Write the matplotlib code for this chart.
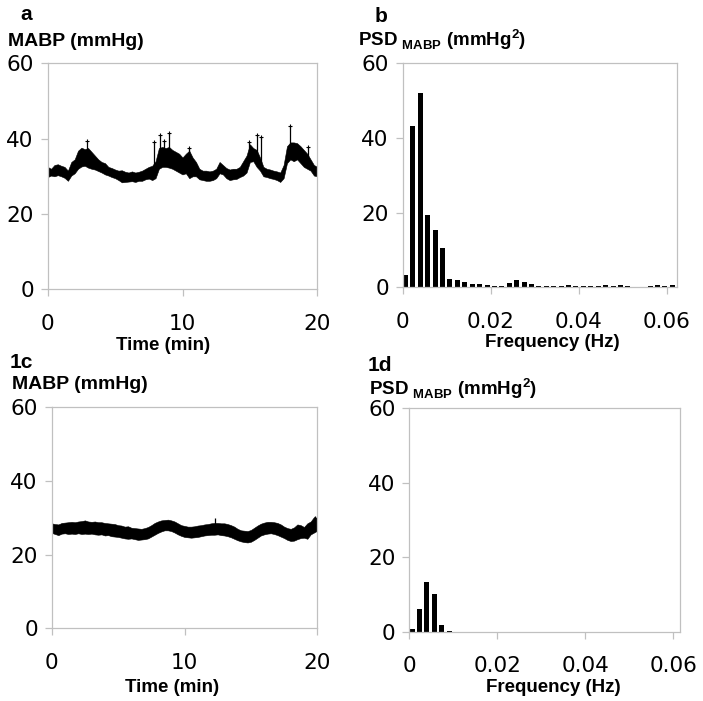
import numpy as np
import matplotlib
matplotlib.use("Agg")
import matplotlib.pyplot as plt

plt.rcParams['font.family'] = 'Liberation Sans'
plt.rcParams['mathtext.fontset'] = 'custom'
plt.rcParams['mathtext.rm'] = 'Liberation Sans:bold'
plt.rcParams['mathtext.bf'] = 'Liberation Sans:bold'

# time grid (min) for the MABP traces
minutes = np.linspace(0, 20, 81)

# panel a: MABP band (upper / lower envelope, mmHg)
mabp_a_hi = [32.5, 32.0, 33.0, 33.2, 32.8, 32.5, 31.5, 33.8, 34.5, 36.8,
             37.6, 37.2, 37.5, 36.5, 35.5, 34.5, 33.8, 33.5, 32.5, 32.2,
             31.8, 31.5, 31.6, 31.2, 31.0, 31.3, 31.0, 31.2, 31.5, 32.0,
             32.5, 32.8, 34.0, 37.5, 37.8, 37.5, 37.8, 37.0, 36.5, 36.0,
             35.0, 36.0, 36.8, 35.0, 33.8, 32.0, 31.5, 31.5, 31.3, 31.5,
             32.0, 33.8, 33.0, 32.2, 31.8, 32.0, 32.0, 32.5, 34.0, 35.5,
             38.5, 37.5, 37.0, 35.0, 32.5, 32.0, 31.8, 31.5, 31.3, 31.0,
             33.0, 38.0, 39.0, 39.0, 38.8, 38.0, 37.0, 36.0, 34.5, 33.0,
             32.5]
mabp_a_lo = [29.8, 30.2, 30.0, 30.3, 30.0, 29.6, 28.8, 30.2, 30.8, 32.0,
             32.6, 32.8, 32.3, 32.0, 31.8, 31.4, 31.0, 30.5, 30.2, 29.8,
             29.5, 29.0, 28.4, 28.5, 28.6, 28.7, 28.5, 28.8, 28.8, 29.2,
             29.4, 29.0, 29.5, 32.0, 32.5, 32.5, 32.3, 32.0, 31.5, 31.0,
             30.5, 30.8, 29.5, 30.0, 30.0, 29.2, 29.0, 28.8, 28.8, 29.0,
             29.5, 30.8, 30.5, 29.5, 29.0, 29.2, 29.3, 29.8, 30.2, 31.0,
             33.8, 34.0, 32.5, 31.5, 30.0, 29.8, 29.5, 29.3, 29.0, 28.5,
             29.5, 33.5, 34.5, 34.0, 34.5, 33.5, 32.5, 32.0, 31.5, 30.2,
             30.0]
spike_a_t = [2.95, 7.9, 8.33, 8.6, 9.0, 10.45, 14.95, 15.5, 15.8, 18.0, 19.3]
spike_a_lo = [35.0, 31.0, 34.0, 35.0, 35.0, 33.0, 34.0, 34.0, 32.5, 37.0, 33.0]
spike_a_hi = [39.3, 39.0, 41.0, 39.5, 41.6, 37.5, 39.0, 41.0, 40.5, 43.4, 37.8]

# panel c: MABP band
mabp_c_hi = [28.5, 28.3, 28.2, 28.6, 28.7, 28.8, 28.9, 28.8, 29.0, 29.1,
             29.3, 29.0, 28.9, 29.0, 28.8, 28.8, 28.6, 28.5, 28.4, 28.3,
             28.0, 27.9, 27.6, 27.7, 27.3, 27.2, 27.1, 27.0, 27.2, 27.5,
             28.0, 28.6, 29.0, 29.3, 29.4, 29.5, 29.3, 29.0, 28.5, 28.0,
             27.8, 27.6, 27.6, 27.7, 27.9, 28.0, 28.2, 28.3, 28.5, 28.6,
             28.6, 28.5, 28.5, 28.3, 28.0, 27.6, 27.0, 26.6, 26.5, 26.4,
             26.7, 27.3, 27.9, 28.4, 28.7, 28.9, 28.9, 28.8, 28.6, 28.2,
             27.6, 27.2, 27.0, 27.4, 28.2, 28.0, 27.5, 28.5, 29.0, 30.2,
             30.0]
mabp_c_lo = [25.9, 25.6, 25.3, 25.7, 25.8, 25.6, 25.7, 25.6, 25.8, 25.6,
             25.7, 25.6, 25.7, 25.5, 25.4, 25.5, 25.2, 25.3, 25.0, 24.9,
             24.8, 24.6, 24.4, 24.3, 24.4, 24.2, 24.0, 24.1, 24.2, 24.4,
             24.9, 25.4, 25.9, 26.3, 26.6, 26.6, 26.4, 26.0, 25.5, 25.1,
             24.8, 24.7, 24.6, 24.7, 24.8, 25.0, 25.2, 25.3, 25.4, 25.4,
             25.5, 25.3, 25.2, 25.0, 24.7, 24.3, 23.9, 23.6, 23.4, 23.3,
             23.5, 24.0, 24.6, 25.2, 25.5, 25.7, 25.8, 25.6, 25.3, 24.9,
             24.5, 24.0, 23.7, 23.8, 24.2, 24.5, 24.6, 24.3, 25.5, 26.0,
             26.5]
spike_c_t = [12.3, 19.8]
spike_c_lo = [28.0, 27.0]
spike_c_hi = [29.9, 30.5]

# PSD bars (Hz, mmHg^2)
freq = [0.00064, 0.00233, 0.00401, 0.00570, 0.00738, 0.00907, 0.01075,
        0.01244, 0.01412, 0.01581, 0.01749, 0.01918, 0.02086, 0.02255,
        0.02423, 0.02592, 0.02760, 0.02929, 0.03097, 0.03266, 0.03434,
        0.03603, 0.03771, 0.03940, 0.04108, 0.04277, 0.04445, 0.04614,
        0.04782, 0.04951, 0.05119, 0.05288, 0.05456, 0.05625, 0.05793,
        0.05962, 0.06130]
psd_b = [3.4, 43.3, 52.0, 19.3, 15.3, 10.4, 2.3, 1.9, 1.4, 0.8,
         0.8, 0.7, 0.35, 0.35, 1.25, 1.9, 1.5, 0.8, 0.35, 0.35,
         0.35, 0.35, 0.7, 0.25, 0.45, 0.45, 0.45, 0.5, 0.45, 0.5,
         0.25, 0.1, 0.2, 0.25, 0.5, 0.35, 0.55]
psd_d = [0.63, 6.1, 13.3, 10.2, 1.7, 0.25]

W, H = 703, 701
fig = plt.figure(figsize=(W / 100, H / 100), dpi=100)


def add_ax(l, t, r, b):
    ax = fig.add_axes([l / W, 1 - b / H, (r - l) / W, (b - t) / H])
    for s in ax.spines.values():
        s.set_color('#c0c0c0')
        s.set_linewidth(0.9)
    ax.set_ylim(0, 60)
    ax.set_yticks([0, 20, 40, 60])
    ax.tick_params(axis='both', direction='out', length=5, width=0.9,
                   color='#c0c0c0', labelsize=15.5, labelcolor='black')
    ax.tick_params(axis='y', pad=5)
    ax.tick_params(axis='x', pad=12.5)
    return ax


def fix_ticks(ax):
    for t in ax.get_xticklabels() + ax.get_yticklabels():
        t.set_fontfamily('DejaVu Sans')


def label(x, y, s, size=14, ha='left'):
    fig.text(x / W, 1 - y / H, s, fontsize=size, fontweight='bold',
             ha=ha, va='baseline')


# a
ax = add_ax(47.7, 63.3, 317.3, 289.3)
ax.fill_between(minutes, mabp_a_lo, mabp_a_hi, color='black', lw=0.4)
ax.vlines(spike_a_t, spike_a_lo, spike_a_hi, color='black', lw=0.9)
ax.plot(spike_a_t, spike_a_hi, ls='none', marker='+', ms=3, mew=0.8, color='black')
ax.set_xlim(0, 20)
ax.set_xticks([0, 10, 20])
fix_ticks(ax)
label(20.5, 20.5, 'a', 15)
label(8.3, 46.5, 'MABP (mmHg)')
label(163, 350, 'Time (min)', 13.5, 'center')

# b
ax = add_ax(402.7, 63.3, 676.7, 287.3)
ax.bar(freq, psd_b, width=0.00114, color='black')
ax.set_xlim(0, 0.0623)
ax.set_xticks([0, 0.02, 0.04, 0.06])
ax.set_xticklabels(['0', '0.02', '0.04', '0.06'])
fix_ticks(ax)
label(375, 21.5, 'b', 15)
label(358, 46, r'PSD $_{\mathbf{MABP}}$ (mmHg$^{\mathbf{2}}$)', 13.5)
label(552, 347, 'Frequency (Hz)', 13.5, 'center')

# c
ax = add_ax(51.7, 407.3, 317.3, 628.3)
ax.fill_between(minutes, mabp_c_lo, mabp_c_hi, color='black', lw=0.4)
ax.vlines(spike_c_t, spike_c_lo, spike_c_hi, color='black', lw=0.9)
ax.set_xlim(0, 20)
ax.set_xticks([0, 10, 20])
fix_ticks(ax)
label(10, 368, '1c', 15)
label(11.7, 389, 'MABP (mmHg)')
label(171.7, 692, 'Time (min)', 13.5, 'center')

# d
ax = add_ax(409.3, 408.3, 680, 631.7)
ax.bar(freq[:len(psd_d)], psd_d, width=0.00114, color='black')
ax.set_xlim(0, 0.0615)
ax.set_xticks([0, 0.02, 0.04, 0.06])
ax.set_xticklabels(['0', '0.02', '0.04', '0.06'])
fix_ticks(ax)
label(368, 371, '1d', 15)
label(369, 395, r'PSD $_{\mathbf{MABP}}$ (mmHg$^{\mathbf{2}}$)', 13.5)
label(553, 692, 'Frequency (Hz)', 13.5, 'center')

fig.savefig('out.png', dpi=100)
